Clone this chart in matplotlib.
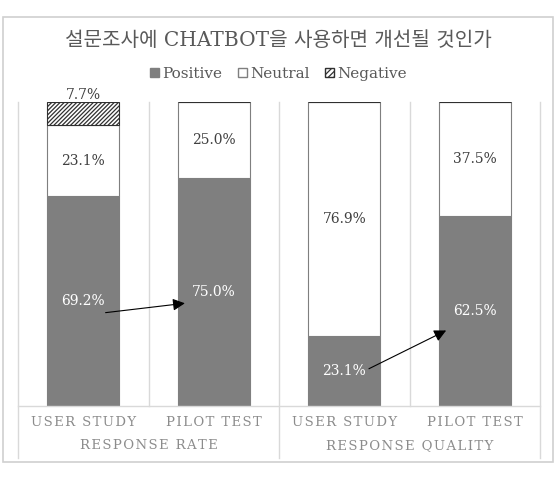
import matplotlib
matplotlib.use('Agg')
import matplotlib.pyplot as plt
from matplotlib.patches import Patch, Rectangle
import numpy as np

plt.rcParams['font.family'] = ['DejaVu Serif', 'Noto Sans CJK KR']
plt.rcParams['hatch.linewidth'] = 0.9

# data
categories = ['USER STUDY', 'PILOT TEST', 'USER STUDY', 'PILOT TEST']
groups = ['RESPONSE RATE', 'RESPONSE QUALITY']
positive = [69.2, 75.0, 23.1, 62.5]
neutral = [23.1, 25.0, 76.9, 37.5]
negative = [7.7, 0.0, 0.0, 0.0]

title = '설문조사에 CHATBOT을 사용하면 개선될 것인가'
grey = '#7f7f7f'
txt = '#595959'
lab = '#8c8c8c'


def spaced(s):
    # emulate the wide letter spacing of the original axis labels
    return '\u200a'.join(s)


fig = plt.figure(figsize=(5.57, 4.78), dpi=100)
fig.patches.append(Rectangle((3/557, 16/478), 550/557, 445/478, transform=fig.transFigure,
                             fill=False, edgecolor='#d0d0d0', lw=1.2))

ax = fig.add_axes([18/557, 72/478, 522/557, 304/478])
x = np.arange(len(categories))
w = 0.55
pos = np.array(positive) / 100
neu = np.array(neutral) / 100
neg = np.array(negative) / 100

ax.bar(x, pos, w, color=grey, edgecolor=grey, lw=0.8)
ax.bar(x, neu, w, bottom=pos, color='white', edgecolor=grey, lw=0.8)
ax.bar(x, neg, w, bottom=pos + neu, color='white', edgecolor='#303030', lw=0.8, hatch='////////')

ax.set_xlim(-0.5, 3.5)
ax.set_ylim(0, 1)
for s in ax.spines.values():
    s.set_visible(False)
ax.set_xticks([])
ax.set_yticks([])

sep = '#d9d9d9'
ax.plot([-0.5, 3.5], [0, 0], color=sep, lw=1, clip_on=False)
for xv in [0.5, 2.5]:
    ax.plot([xv, xv], [0, 1], color=sep, lw=1, clip_on=False)
for xv in [-0.5, 1.5, 3.5]:
    ax.plot([xv, xv], [-0.17, 1], color=sep, lw=1, clip_on=False)

for i, c in enumerate(categories):
    ax.text(i, -0.053, spaced(c), ha='center', va='center', color=lab, fontsize=9.5)
for j, g in enumerate(groups):
    ax.text(2 * j + 0.5, -0.13, spaced(g), ha='center', va='center', color=lab, fontsize=9.5)

# data labels
for i in range(len(categories)):
    ax.text(i, pos[i] / 2, f'{positive[i]:.1f}%', ha='center', va='center', color='white', fontsize=10)
    ax.text(i, pos[i] + neu[i] / 2, f'{neutral[i]:.1f}%', ha='center', va='center', color='#404040', fontsize=10)
    if neg[i] > 0:
        ax.text(i, 1.0, f'{negative[i]:.1f}%', ha='center', va='bottom', color='#404040', fontsize=10)

# arrows from study to pilot
ap = dict(arrowstyle='-|>', color='black', lw=0.8, mutation_scale=18)
ax.annotate('', xy=(0.8, pos[1] / 2 - 0.036), xytext=(0.15, pos[0] / 2 - 0.04), arrowprops=ap)
ax.annotate('', xy=(2.8, pos[3] / 2 - 0.06), xytext=(2.17, pos[2] / 2 + 0.003), arrowprops=ap)

fig.text(0.5, 1 - 40/478, title, ha='center', va='center', color=txt, fontsize=14.5)

handles = [Patch(facecolor=grey, edgecolor=grey, label='Positive'),
           Patch(facecolor='white', edgecolor=grey, label='Neutral'),
           Patch(facecolor='white', edgecolor='#303030', hatch='//////', label='Negative')]
fig.legend(handles=handles, loc='center', bbox_to_anchor=(0.5, 1 - 74/478), ncol=3, frameon=False,
           handlelength=0.6, handleheight=0.6, handletextpad=0.2, columnspacing=1.0,
           labelcolor=txt, prop={'size': 11})

fig.savefig('out.png', dpi=100)
